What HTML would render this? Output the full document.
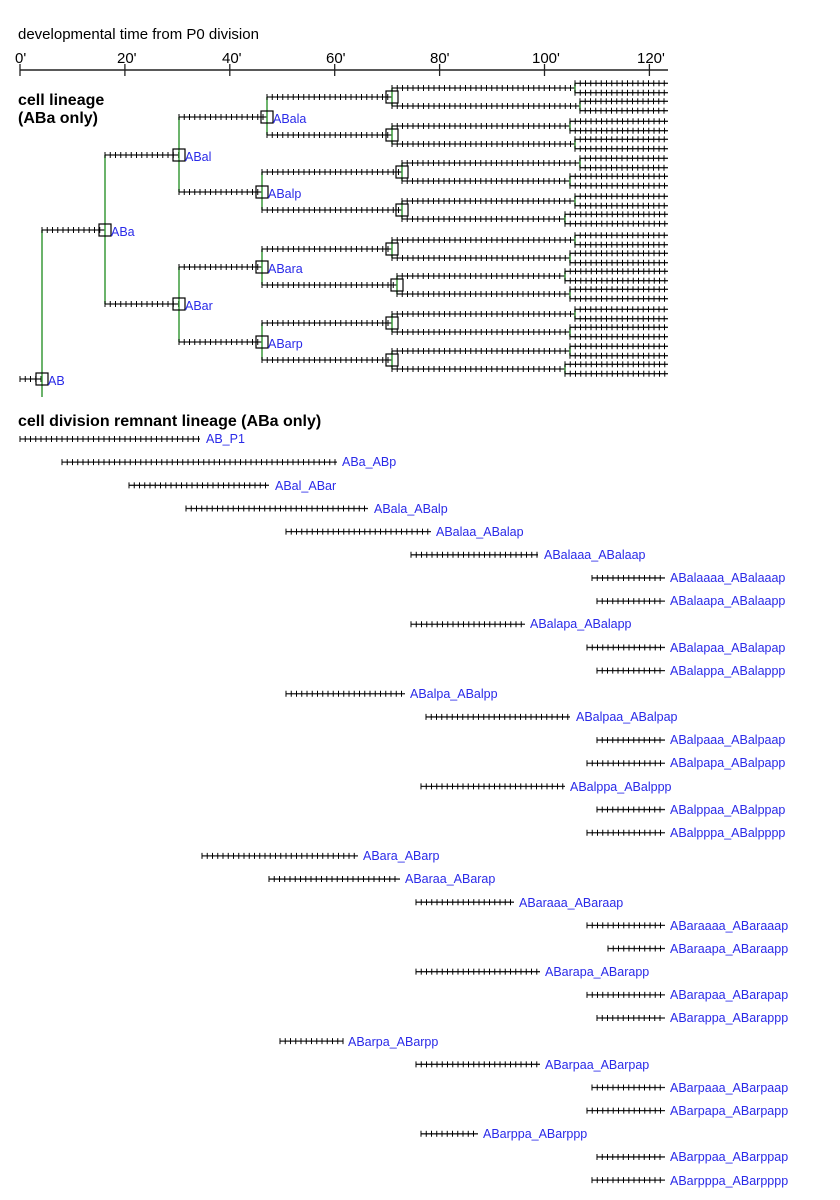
<!DOCTYPE html>
<html><head><meta charset="utf-8"><style>
html,body{margin:0;padding:0;background:#fff;}
svg{display:block;font-family:"Liberation Sans",Arial,sans-serif;}
.b{fill:#2a2ae8;font-size:12.5px;}
.h{fill:#000;font-size:15px;}
.t{fill:#000;font-size:16px;font-weight:bold;}
</style></head><body>
<svg id="s" width="840" height="1200" xmlns="http://www.w3.org/2000/svg">
<text class="h" x="18" y="39">developmental time from P0 division</text>
<text class="h" x="15" y="63">0'</text>
<text class="h" x="117" y="63">20'</text>
<text class="h" x="222" y="63">40'</text>
<text class="h" x="326" y="63">60'</text>
<text class="h" x="430" y="63">80'</text>
<text class="h" x="532" y="63">100'</text>
<text class="h" x="637" y="63">120'</text>
<text class="t" x="18" y="105">cell lineage</text>
<text class="t" x="18" y="123">(ABa only)</text>
<text class="t" x="18" y="426">cell division remnant lineage (ABa only)</text>
<g id="g"></g>
<text class="b" x="48" y="385">AB</text>
<text class="b" x="111" y="236">ABa</text>
<text class="b" x="185" y="161">ABal</text>
<text class="b" x="185" y="310">ABar</text>
<text class="b" x="273" y="123">ABala</text>
<text class="b" x="268" y="198">ABalp</text>
<text class="b" x="268" y="273">ABara</text>
<text class="b" x="268" y="348">ABarp</text>
<text class="b" x="206" y="443">AB_P1</text>
<text class="b" x="342" y="466">ABa_ABp</text>
<text class="b" x="275" y="490">ABal_ABar</text>
<text class="b" x="374" y="513">ABala_ABalp</text>
<text class="b" x="436" y="536">ABalaa_ABalap</text>
<text class="b" x="544" y="559">ABalaaa_ABalaap</text>
<text class="b" x="670" y="582">ABalaaaa_ABalaaap</text>
<text class="b" x="670" y="605">ABalaapa_ABalaapp</text>
<text class="b" x="530" y="628">ABalapa_ABalapp</text>
<text class="b" x="670" y="652">ABalapaa_ABalapap</text>
<text class="b" x="670" y="675">ABalappa_ABalappp</text>
<text class="b" x="410" y="698">ABalpa_ABalpp</text>
<text class="b" x="576" y="721">ABalpaa_ABalpap</text>
<text class="b" x="670" y="744">ABalpaaa_ABalpaap</text>
<text class="b" x="670" y="767">ABalpapa_ABalpapp</text>
<text class="b" x="570" y="791">ABalppa_ABalppp</text>
<text class="b" x="670" y="814">ABalppaa_ABalppap</text>
<text class="b" x="670" y="837">ABalpppa_ABalpppp</text>
<text class="b" x="363" y="860">ABara_ABarp</text>
<text class="b" x="405" y="883">ABaraa_ABarap</text>
<text class="b" x="519" y="907">ABaraaa_ABaraap</text>
<text class="b" x="670" y="930">ABaraaaa_ABaraaap</text>
<text class="b" x="670" y="953">ABaraapa_ABaraapp</text>
<text class="b" x="545" y="976">ABarapa_ABarapp</text>
<text class="b" x="670" y="999">ABarapaa_ABarapap</text>
<text class="b" x="670" y="1022">ABarappa_ABarappp</text>
<text class="b" x="348" y="1046">ABarpa_ABarpp</text>
<text class="b" x="545" y="1069">ABarpaa_ABarpap</text>
<text class="b" x="670" y="1092">ABarpaaa_ABarpaap</text>
<text class="b" x="670" y="1115">ABarpapa_ABarpapp</text>
<text class="b" x="483" y="1138">ABarppa_ABarppp</text>
<text class="b" x="670" y="1161">ABarppaa_ABarppap</text>
<text class="b" x="670" y="1185">ABarpppa_ABarpppp</text>
</svg>
<script>
var g=document.getElementById('g'),o='';
function L(x1,y1,x2,y2,c,w){o+='<line x1="'+x1+'" y1="'+y1+'" x2="'+x2+'" y2="'+y2+'" stroke="'+(c||'#000')+'" stroke-width="'+(w||1.2)+'"/>';}
function H(x1,x2,y){L(x1,y,x2,y,'#222',1.3);for(var x=x1;x<=x2+0.1;x+=5.25)L(x,y-3,x,y+3,'#000',1);}
function B(x,y){o+='<rect x="'+(x-6)+'" y="'+(y-6)+'" width="12" height="12" fill="none" stroke="#000" stroke-width="1.2"/>';}
function V(x,y1,y2){L(x,y1,x,y2,'#3a9a3a',1.5);}
// axis
L(20,70,668,70,'#222',1.5);
for(var i=0;i<=6;i++){var x=20+i*104.9;L(x,64,x,76,'#222',1.3);}
// lineage
H(20,42,379);V(42,230,397);B(42,379);
H(42,105,230);V(105,155,304);B(105,230);
H(105,179,155);H(105,179,304);V(179,117,192);V(179,267,342);B(179,155);B(179,304);
var l3=[[117,267,97,135],[192,262,172,210],[267,262,249,285],[342,262,323,360]];
l3.forEach(function(a){H(179,a[1],a[0]);V(a[1],a[2],a[3]);B(a[1],a[0]);});
var l4y=[97,135,172,210,249,285,323,360],l4x=[392,392,402,402,392,397,392,392],l4s=[267,267,262,262,262,262,262,262];
var l5e=[575,580,570,575,580,570,575,565,575,570,565,570,575,570,570,565];
var k=0;
l4y.forEach(function(y,i){H(l4s[i],l4x[i],y);V(l4x[i],y-9,y+9);B(l4x[i],y);
 [y-9,y+9].forEach(function(y5){var e=l5e[k++];H(l4x[i],e,y5);V(e,y5-4.7,y5+4.7);H(e,668,y5-4.7);H(e,668,y5+4.7);});
});
// remnants
var r=[[20,200],[62,337],[129,269],[186,368],[286,431],[411,538],[592,665],[597,665],[411,525],[587,665],[597,665],[286,405],[426,570],[597,665],[587,665],[421,565],[597,665],[587,665],[202,358],[269,400],[416,514],[587,665],[608,665],[416,540],[587,665],[597,665],[280,343],[416,540],[592,665],[587,665],[421,478],[597,665],[592,665]];
r.forEach(function(a,i){H(a[0],a[1],439+i*23.16);});
g.innerHTML=o;
</script>
</body></html>
